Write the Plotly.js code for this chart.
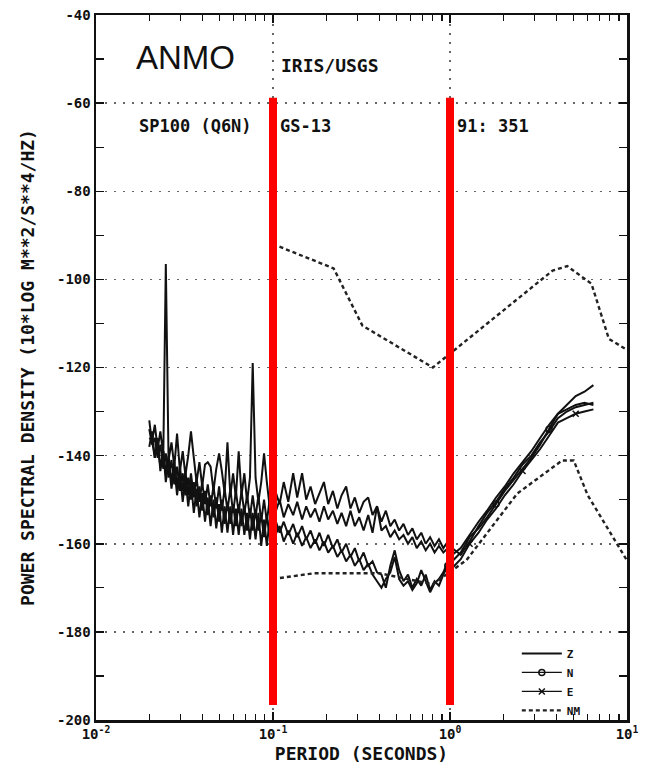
<!DOCTYPE html>
<html>
<head>
<meta charset="utf-8">
<script src="https://cdn.plot.ly/plotly-3.0.1.min.js"></script>
<style>html,body{margin:0;padding:0;background:#fff;}#chart{width:652px;height:770px;}</style>
</head>
<body>
<div id="chart"></div>
<script>
// ---- data ----
const periods = [
  0.0200, 0.0207, 0.0215, 0.0223, 0.0231, 0.0240, 0.0248, 0.0257, 0.0267, 0.0277,
  0.0287, 0.0298, 0.0309, 0.0320, 0.0332, 0.0344, 0.0357, 0.0370, 0.0384, 0.0398,
  0.0413, 0.0428, 0.0444, 0.0461, 0.0478, 0.0496, 0.0514, 0.0533, 0.0553, 0.0574,
  0.0595, 0.0617, 0.0640, 0.0664, 0.0689, 0.0714, 0.0741, 0.0768, 0.0797, 0.0827,
  0.0858, 0.0890, 0.0923, 0.0957, 0.0993,
  0.103, 0.109, 0.115, 0.122, 0.130, 0.137, 0.146, 0.154, 0.163, 0.173,
  0.183, 0.194, 0.205, 0.218, 0.231, 0.244, 0.259, 0.274, 0.290, 0.307,
  0.325, 0.345, 0.365, 0.387, 0.410, 0.434, 0.460, 0.487, 0.516, 0.546,
  0.579, 0.613, 0.649, 0.688, 0.729, 0.772, 0.818, 0.866, 0.917, 0.972,
  1.03, 1.15, 1.29, 1.45, 1.62, 1.82, 2.04, 2.29, 2.57, 2.88,
  3.23, 3.63, 4.07, 4.57, 5.13, 5.75, 6.46
];
const psdZ = [
  -132, -137, -133, -138.5, -134.5, -140, -96.5, -141, -137, -142.5,
  -135, -143.5, -139, -144.5, -140, -134.5, -140.5, -146, -141.5, -147,
  -142, -141.5, -142.5, -148, -143, -139.5, -143.5, -148.5, -137, -149,
  -144, -149.5, -139, -149, -144, -150.5, -145, -119, -145, -150.5,
  -146, -139.5, -146, -151.5, -146.5,
  -148, -151, -146, -150.5, -144, -149.5, -144, -150, -147, -151,
  -148.5, -146, -151, -148, -152, -149, -147, -152, -149.5, -153,
  -150.5, -149.5, -153.5, -151.5, -155, -152.5, -156, -154.5, -157, -155.5,
  -158, -156.5, -159, -157.5, -160, -158.5, -160.5, -159, -161, -159.5,
  -162.5, -161, -158, -155, -152.5, -149.5, -147, -144, -141.5, -139,
  -136, -133, -130.5, -128.5, -126.5, -125.5, -124
];
const psdZ2 = [
  -136, -136.5, -140.5, -137.5, -142.5, -139, -144, -140, -146, -141.5,
  -147, -142.5, -148, -143.5, -149, -144, -149.5, -145, -150.5, -146,
  -151, -146.5, -151.5, -147, -152, -147, -152.5, -147.5, -152.5, -147.5,
  -153, -148, -153, -148, -153, -149, -154, -149, -154, -149,
  -155, -150, -155, -150, -155.5,
  -153, -150, -154, -151, -153.5, -150.5, -154.5, -151.5, -154, -152,
  -155, -151.5, -154.5, -152.5, -155.5, -153, -156, -152.5, -156, -154,
  -157, -153.5, -157.5, -151.5, -157, -156, -158.5, -157, -159, -158,
  -160, -158.5, -161, -159.5, -161.5, -160, -162, -160.5, -162, -161,
  -161, -162.5, -159.5, -156, -153, -150.5, -147.5, -145, -142, -140,
  -137, -134.5, -131.5, -130, -129, -128.5, -128
];
const psdN = [
  -134, -137.5, -136, -140.5, -137.5, -143, -139.5, -145, -141, -146.5,
  -142.5, -148, -144, -149, -145, -150, -146, -151.5, -147, -152.5,
  -148, -153.5, -149, -154, -149.5, -155, -150, -155.5, -150.5, -155.5,
  -151, -156, -151, -156, -151.5, -157, -152, -157, -152.5, -157,
  -153.5, -158.5, -153.5, -158.5, -154,
  -154.5, -157.5, -155, -158, -155.5, -158.5, -156, -159, -157, -160,
  -157.5, -160.5, -158, -161, -159, -162, -160, -163, -161, -164,
  -162, -165, -164, -166.5, -167, -170, -165, -161.5, -166, -168.5,
  -167, -170, -168, -169.5, -167, -170.5, -168.5, -169.5, -167, -165,
  -164, -162, -158.5, -156.5, -154, -151, -148, -145.5, -143, -140.5,
  -137.5, -134, -130.5, -129.5, -128.5, -128, -128.5
];
const psdE = [
  -138, -134.5, -140.5, -136, -143.5, -139, -146, -141, -147.5, -142.5,
  -149, -144, -150.5, -145, -151.5, -146, -153, -147.5, -154, -148.5,
  -155, -149.5, -156, -150, -156.5, -151, -157.5, -151.5, -157.5, -151.5,
  -158, -152, -158, -152, -158, -153, -159, -153, -159, -153,
  -160.5, -154.5, -160.5, -154.5, -160.5,
  -158, -156, -159.5, -157, -160, -157.5, -160.5, -158.5, -161, -159,
  -161.5, -159.5, -162, -160.5, -163, -161.5, -164, -162.5, -165, -163.5,
  -166, -164.5, -167, -168.5, -170, -168, -166.5, -163, -168, -169.5,
  -168.5, -170.5, -169, -166, -168.5, -171, -169, -168, -166.5, -164,
  -165.5, -163.5, -160, -157.5, -154.5, -152, -149, -146.5, -143.5, -141,
  -138.5, -135.5, -132.5, -131.5, -130.5, -130, -129.5
];
// New noise model (high and low)
const nmHighPeriods = [0.1, 0.22, 0.32, 0.8, 3.8, 4.6, 6.3, 7.9, 10];
const nmHighDb = [-92, -97.5, -110.5, -120, -98, -97, -101, -113.5, -116];
const nmLowPeriods = [0.1, 0.17, 0.4, 0.8, 1.24, 2.4, 4.3, 5.0, 6.0, 10];
const nmLowDb = [-168, -166.7, -166.7, -169.2, -163.7, -148.6, -141.1, -141.1, -149, -163.8];

const xTickVals = [0.01, 0.1, 1, 10];
const xTickLabels = ['10<sup>-2</sup>', '10<sup>-1</sup>', '10<sup>0</sup>', '10<sup>1</sup>'];
const yTickVals = [-40, -60, -80, -100, -120, -140, -160, -180, -200];
const yTickLabels = ['-40', '-60', '-80', '-100', '-120', '-140', '-160', '-180', '-200'];
const highlightPeriods = [0.1, 1];

// ---- styling / construction ----
const MONO = 'DejaVu Sans Mono, monospace';
const black = '#111';

const minorX = [];
[-2, -1, 0].forEach(d => { for (let k = 2; k <= 9; k++) minorX.push(k * Math.pow(10, d)); });

function pick(arr, offset) {
  return arr.filter((v, i) => i - 84 - offset >= 0 && (i - 84 - offset) % 6 === 0);
}

const lineW = 2.0;
const traces = [
  {x: periods, y: psdZ, mode: 'lines', name: 'Z', legendgroup: 'Z', line: {color: black, width: lineW}},
  {x: periods, y: psdZ2, mode: 'lines', name: 'Z', legendgroup: 'Z', showlegend: false, line: {color: black, width: lineW}},
  {x: periods, y: psdN, mode: 'lines', name: 'N', legendgroup: 'N', showlegend: false, line: {color: black, width: lineW}},
  {x: pick(periods, 0), y: pick(psdN, 0), mode: 'markers', legendgroup: 'N', showlegend: false,
   marker: {symbol: 'circle-open', size: 6, color: black, line: {width: 1.5}}},
  {x: [null], y: [null], mode: 'lines+markers', name: 'N', legendgroup: 'N',
   line: {color: black, width: 1.3}, marker: {symbol: 'circle-open', size: 6, color: black, line: {width: 1.5}}},
  {x: periods, y: psdE, mode: 'lines', name: 'E', legendgroup: 'E', showlegend: false, line: {color: black, width: lineW}},
  {x: pick(periods, 3), y: pick(psdE, 3), mode: 'markers', legendgroup: 'E', showlegend: false,
   marker: {symbol: 'x-thin-open', size: 6, color: black, line: {width: 1.5}}},
  {x: [null], y: [null], mode: 'lines+markers', name: 'E', legendgroup: 'E',
   line: {color: black, width: 1.3}, marker: {symbol: 'x-thin-open', size: 6, color: black, line: {width: 1.5}}},
  {x: nmHighPeriods, y: nmHighDb, mode: 'lines', name: 'NM', legendgroup: 'NM',
   line: {color: '#222', width: 2.4, dash: '4px,3px'}},
  {x: nmLowPeriods, y: nmLowDb, mode: 'lines', name: 'NM', legendgroup: 'NM', showlegend: false,
   line: {color: '#222', width: 2.4, dash: '4px,3px'}}
];

const shapes = highlightPeriods.map(p => ({
  type: 'line', xref: 'x', yref: 'y', x0: p, x1: p, y0: -58.8, y1: -196.6,
  line: {color: '#ff0000', width: 8}, layer: 'above'
}));

const annFont = {family: MONO, size: 17, color: black, weight: 'bold'};
const annotations = [
  {text: 'ANMO', xref: 'paper', yref: 'paper', x: 0.168, y: 0.940, xanchor: 'center', yanchor: 'middle', showarrow: false,
   font: {family: 'Liberation Sans, Arial, sans-serif', size: 33, color: black}},
  {text: 'IRIS/USGS', xref: 'paper', yref: 'paper', x: 0.344, y: 0.929, xanchor: 'left', yanchor: 'middle', showarrow: false,
   font: {family: MONO, size: 18, color: black, weight: 'bold'}},
  {text: 'SP100 (Q6N)', xref: 'paper', yref: 'paper', x: 0.077, y: 0.843, xanchor: 'left', yanchor: 'middle', showarrow: false, font: annFont},
  {text: 'GS-13', xref: 'paper', yref: 'paper', x: 0.343, y: 0.843, xanchor: 'left', yanchor: 'middle', showarrow: false, font: annFont},
  {text: '91: 351', xref: 'paper', yref: 'paper', x: 0.676, y: 0.843, xanchor: 'left', yanchor: 'middle', showarrow: false, font: annFont}
];

const axisCommon = {
  showline: true, linecolor: black, linewidth: 2.5, mirror: 'ticks',
  ticks: 'inside', ticklen: 8, tickwidth: 1.5, tickcolor: black,
  showgrid: true, gridcolor: '#666', griddash: '2px,7px', gridwidth: 1.5,
  zeroline: false, tickfont: {family: MONO, size: 14, color: black, weight: 'bold'}
};

const layout = {
  width: 652, height: 770,
  margin: {l: 96, r: 25, t: 15, b: 50},
  paper_bgcolor: '#fff', plot_bgcolor: '#fff',
  showlegend: true,
  legend: {x: 0.7925, y: 0.115, xanchor: 'left', yanchor: 'top', bgcolor: 'rgba(0,0,0,0)',
    font: {family: MONO, size: 11, color: black, weight: 'bold'}, tracegroupgap: 0, itemwidth: 40},
  xaxis: Object.assign({}, axisCommon, {
    type: 'log', range: [-2, 1], tickmode: 'array', tickvals: xTickVals, ticktext: xTickLabels,
    minor: {tickmode: 'array', tickvals: minorX, ticks: 'inside', ticklen: 6, tickwidth: 1.2, tickcolor: black, showgrid: false},
    title: {text: 'PERIOD (SECONDS)', font: {family: MONO, size: 18, color: black, weight: 'bold'}, standoff: 6}
  }),
  yaxis: Object.assign({}, axisCommon, {
    range: [-200, -40], tickmode: 'array', tickvals: yTickVals, ticktext: yTickLabels,
    minor: {tickmode: 'linear', tick0: -200, dtick: 10, ticks: 'inside', ticklen: 8, tickwidth: 1.2, tickcolor: black, showgrid: false},
    title: {text: 'POWER SPECTRAL DENSITY (10*LOG M**2/S**4/HZ)', font: {family: MONO, size: 18, color: black, weight: 'bold'}, standoff: 18}
  }),
  shapes: shapes,
  annotations: annotations
};

Plotly.newPlot('chart', traces, layout, {displayModeBar: false, staticPlot: true});
</script>
</body>
</html>
